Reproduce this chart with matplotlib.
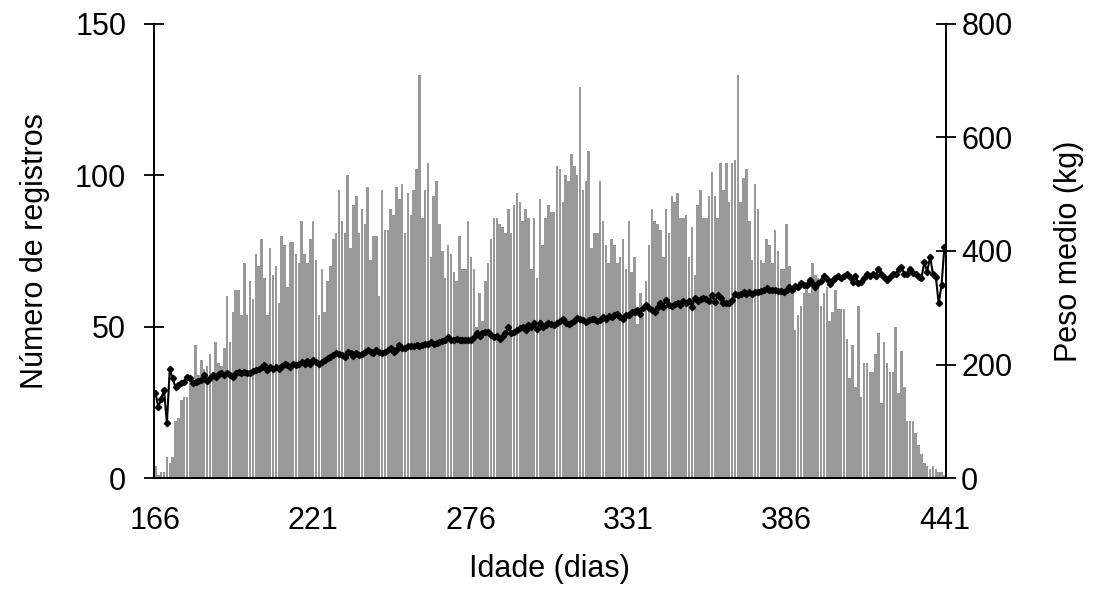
import numpy as np
import matplotlib
matplotlib.use("Agg")
import matplotlib.pyplot as plt

plt.rcParams['font.family'] = ['Liberation Sans', 'DejaVu Sans']

# Idade (dias) 166..441
idade = np.arange(166, 442)
xticks = [166, 221, 276, 331, 386, 441]

# Número de registros por idade
registros = [
    4, 1, 2, 2, 7, 5, 7, 19, 20, 26, 27, 27, 32, 32, 44,
    34, 39, 36, 37, 41, 35, 45, 38, 37, 43,
    60, 45, 55, 62, 62, 54, 71, 54, 65, 59, 74, 70, 79,
    66, 54, 76, 67, 70, 58, 80, 77, 63, 78, 78, 74, 71, 85, 74, 71, 79, 85, 72, 54, 69, 55,
    65, 70, 79, 81, 95, 85, 81, 100, 76, 90, 93, 81, 89, 84, 96, 72, 80,
    80, 60, 95, 82, 82, 89, 87, 96, 92, 97, 81, 94, 87, 95, 102, 133,
    86, 95, 104, 73, 93, 98, 84, 75, 66, 77, 74, 68, 65, 80, 69, 69, 85, 73, 69, 50,
    61, 52, 65, 71, 79,
    86, 86, 84, 83, 81, 89, 81, 90, 94, 91, 85, 89, 86, 69, 86, 66, 92, 77, 86, 90,
    88, 88, 103, 102, 91, 100, 98, 107, 103, 100,
    129, 95, 98, 108, 76, 81, 81, 98, 85, 77, 71, 79, 77, 71, 73, 79, 69, 85, 68, 73,
    51, 61, 54, 65, 77, 89, 85, 84, 82, 73, 89, 81, 93, 91, 94, 86, 86, 87, 73, 83,
    67, 90, 95, 86, 86,
    93, 101, 93, 86, 104, 95, 104, 91, 104, 105, 133, 91, 99, 102, 85, 72, 97, 89, 72, 71,
    79, 77, 71, 82, 75, 69, 69, 84, 70, 62, 49, 54, 57, 61, 64, 61, 71, 67, 66, 57,
    61, 63,
    52, 55, 62, 56, 56, 56, 46, 33, 44, 30, 57, 27, 38, 38, 35, 35, 41, 48, 25, 45,
    38, 35, 35, 50, 28, 42, 30, 19, 19, 19, 15, 11, 8, 5, 4, 3, 4, 3, 2, 2, 1,
]

# Peso medio (kg) por idade
peso = [
    151, 125, 140, 155, 97, 192, 176, 160, 165, 168,
    170, 179, 176, 168, 170, 172, 173, 182, 172, 176,
    182, 179, 183, 185, 182, 185, 182, 179, 186, 188,
    185, 188, 186, 185, 189, 191, 192, 196, 199, 190,
    196, 193, 196, 193, 197, 202, 199, 196, 202, 199,
    201, 205, 202, 207, 202, 208, 204, 202, 205, 209,
    211, 214, 217, 220, 218, 217, 214, 223, 220, 215,
    220, 217, 219, 222, 226, 223, 220, 226, 223, 220,
    223, 226, 229, 223, 226, 234, 230, 229, 232, 233,
    233, 234, 233, 234, 236, 237, 240, 237, 238, 240,
    241, 243, 248, 244, 243, 246, 244, 244, 243, 243,
    244, 249, 255, 250, 256, 258, 258, 252, 249, 250,
    246, 250, 255, 267, 255, 258, 261, 264, 267, 261,
    270, 267, 273, 262, 273, 267, 270, 273, 272, 270,
    273, 277, 280, 273, 271, 273, 276, 282, 280, 278,
    275, 278, 280, 280, 277, 278, 284, 281, 285, 283,
    287, 290, 284, 281, 287, 287, 293, 293, 296, 290,
    299, 305, 299, 296, 293, 302, 308, 302, 314, 305,
    303, 306, 308, 305, 312, 309, 312, 302, 317, 312,
    315, 318, 315, 312, 322, 311, 322, 317, 309, 309,
    308, 314, 325, 322, 325, 327, 325, 328, 325, 328,
    327, 329, 331, 334, 331, 331, 331, 330, 329, 327,
    332, 337, 331, 338, 337, 343, 341, 340, 349, 344,
    337, 344, 348, 356, 350, 342, 349, 352, 356, 352,
    356, 360, 355, 346, 356, 343, 346, 352, 360, 356,
    360, 356, 368, 360, 355, 349, 355, 360, 360, 368,
    372, 360, 360, 368, 362, 360, 355, 352, 381, 363,
    390, 360, 355, 308, 340, 407,
]

fig = plt.figure(figsize=(10.96, 5.89), dpi=100)
ax = fig.add_axes([0.1405, 0.1878, 0.7225, 0.7722])
ax2 = ax.twinx()

ax.bar(idade, registros, width=0.88, color='#999999', linewidth=0)
ax2.plot(idade, peso, color='black', linewidth=1.5, marker='D', markersize=3.2)

ax.set_xlim(165.5, 441.5)
ax.set_ylim(0, 150)
ax2.set_ylim(0, 800)
ax.set_xticks(xticks)
ax.set_yticks([0, 50, 100, 150])
ax2.set_yticks([0, 200, 400, 600, 800])

for a in (ax, ax2):
    a.spines['top'].set_visible(False)
    for s in ('left', 'right', 'bottom'):
        a.spines[s].set_linewidth(1.3)

fs = 22
ax.tick_params(axis='x', length=0, pad=20, labelsize=fs)
ax.tick_params(axis='y', direction='inout', length=14, width=1.3, pad=13, labelsize=fs)
ax2.tick_params(axis='y', direction='inout', length=14, width=1.3, pad=4, labelsize=fs)

ax.set_xlabel('Idade (dias)', fontsize=fs, labelpad=13)
ax.set_ylabel('Número de registros', fontsize=fs, labelpad=18)
ax2.set_ylabel('Peso medio (kg)', fontsize=fs, rotation=90, labelpad=30)

fig.savefig('out.png', dpi=100)
